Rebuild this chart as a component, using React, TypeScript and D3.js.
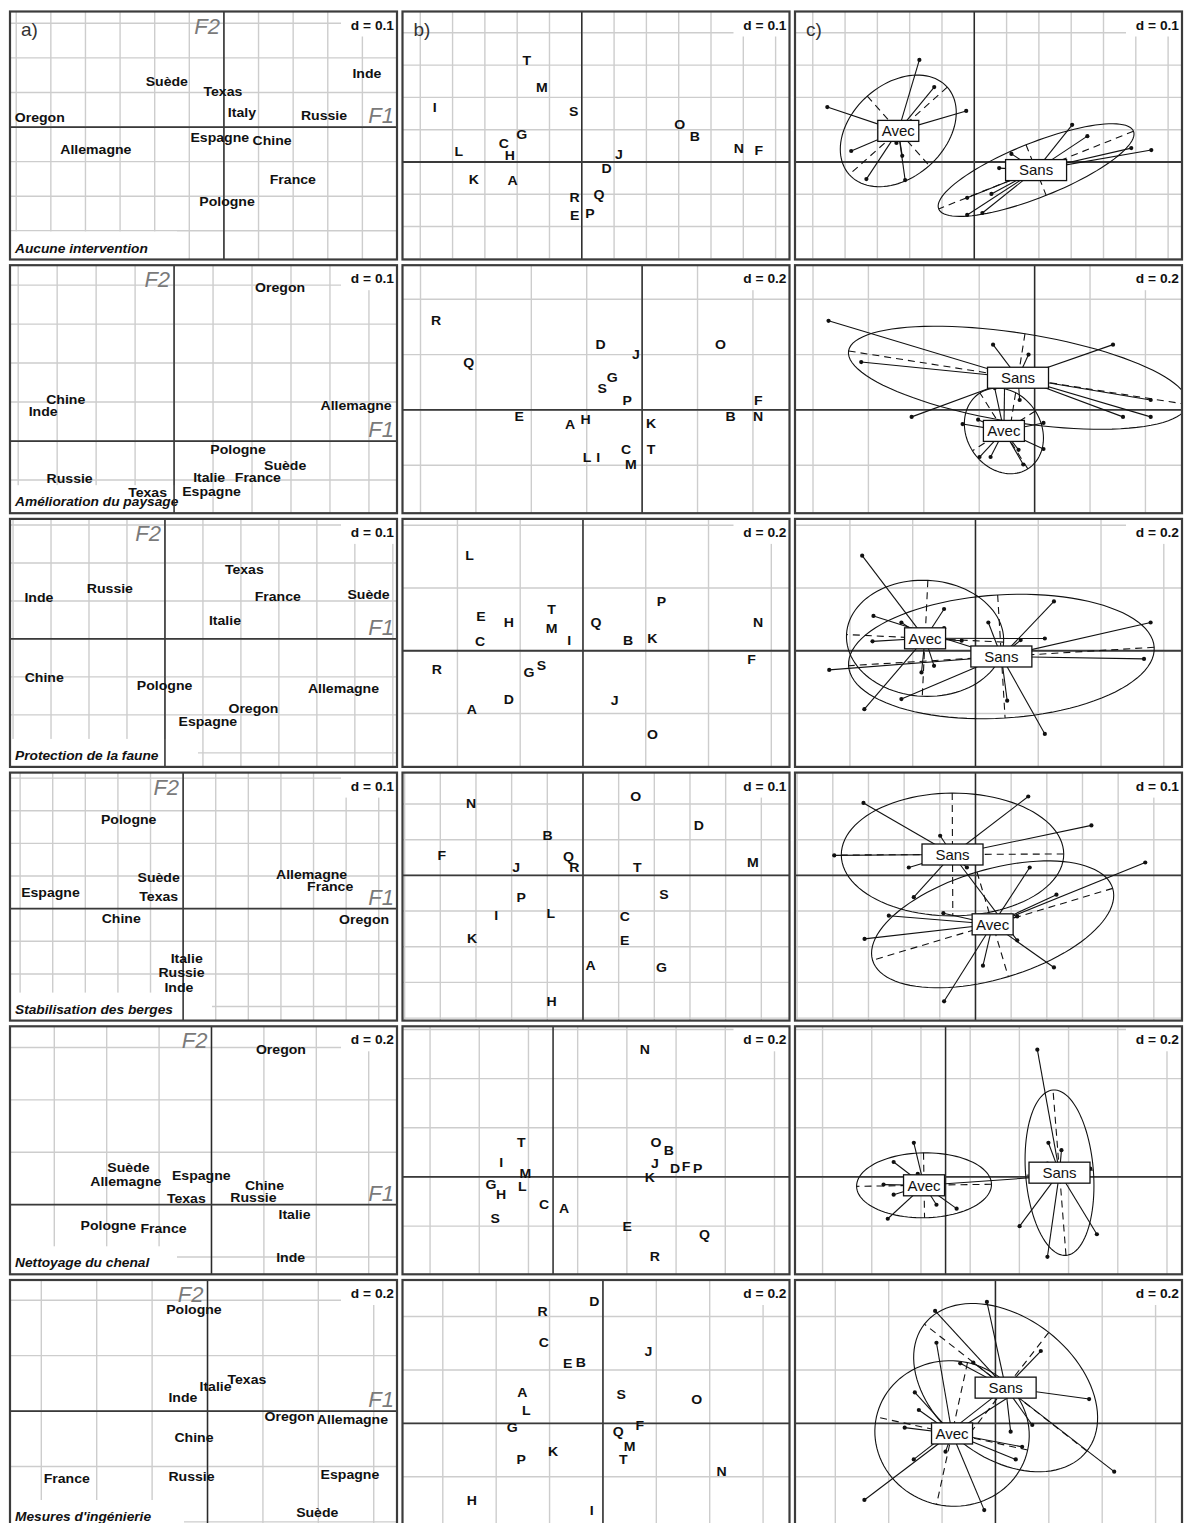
import React from "react";
import * as d3 from "d3";

// ---------------- data ----------------
const LETTERS = "ABCDEFGHIJKLMNOPQRST".split("");
const GROUP_OF_LETTER = ["Avec","Sans","Avec","Sans","Sans","Sans","Avec","Avec","Avec","Sans","Avec","Avec","Avec","Sans","Sans","Sans","Sans","Sans","Avec","Avec"];
const CLASS_LEVELS = ["Avec", "Sans"];

const THEMES = ["Aucune intervention", "Amélioration du paysage", "Protection de la faune", "Stabilisation des berges", "Nettoyage du chenal", "Mesures d'ingénierie"];

// panel a) : countries (label, F1, F2)
const countries1: [string, number, number][] = [["Suède",-0.165,0.133],["Texas",-0.003,0.104],["Italy",0.052,0.043],["Inde",0.413,0.156],["Russie",0.289,0.035],["Oregon",-0.532,0.029],["Allemagne",-0.370,-0.064],["Espagne",-0.012,-0.029],["Chine",0.139,-0.040],["France",0.199,-0.150],["Pologne",0.009,-0.214]];
const countries2: [string, number, number][] = [["Oregon",0.272,0.395],["Chine",-0.278,0.108],["Inde",-0.336,0.077],["Allemagne",0.467,0.092],["Pologne",0.164,-0.021],["Suède",0.285,-0.062],["Italie",0.090,-0.092],["France",0.215,-0.092],["Russie",-0.268,-0.097],["Texas",-0.068,-0.131],["Espagne",0.096,-0.128]];
const countries3: [string, number, number][] = [["Texas",0.209,0.184],["Russie",-0.145,0.132],["Inde",-0.332,0.110],["France",0.297,0.111],["Suède",0.536,0.116],["Italie",0.158,0.050],["Chine",-0.318,-0.101],["Pologne",-0.001,-0.123],["Allemagne",0.470,-0.130],["Oregon",0.233,-0.184],["Espagne",0.113,-0.217]];
const countries4: [string, number, number][] = [["Pologne",-0.167,0.273],["Suède",-0.075,0.096],["Texas",-0.075,0.038],["Espagne",-0.407,0.051],["Allemagne",0.394,0.106],["France",0.451,0.067],["Chine",-0.190,-0.031],["Oregon",0.555,-0.034],["Italie",0.011,-0.151],["Russie",-0.005,-0.194],["Inde",-0.013,-0.240]];
const countries5: [string, number, number][] = [["Oregon",0.265,0.592],["Suède",-0.317,0.144],["Allemagne",-0.327,0.087],["Espagne",-0.039,0.112],["Chine",0.202,0.074],["Texas",-0.096,0.023],["Russie",0.160,0.029],["Italie",0.317,-0.038],["Pologne",-0.394,-0.081],["France",-0.183,-0.092],["Inde",0.302,-0.200]];
const countries6: [string, number, number][] = [["Pologne",-0.049,0.367],["Texas",0.142,0.114],["Italie",0.029,0.088],["Inde",-0.089,0.048],["Oregon",0.296,-0.021],["Allemagne",0.523,-0.030],["Chine",-0.049,-0.096],["France",-0.508,-0.243],["Russie",-0.058,-0.235],["Espagne",0.514,-0.227],["Suède",0.396,-0.367]];

// panels b) / c) : respondents A..T (F1, F2)
const row1X = [-0.214,0.350,-0.241,0.077,-0.022,0.548,-0.186,-0.223,-0.455,0.115,-0.334,-0.381,-0.124,0.486,0.303,0.025,0.053,-0.022,-0.025,-0.170];
const row1Y = [-0.056,0.080,0.059,-0.019,-0.164,0.037,0.084,0.019,0.170,0.025,-0.053,0.034,0.232,0.043,0.115,-0.158,-0.099,-0.111,0.158,0.316];
const row2X = [-0.260,0.319,-0.058,-0.150,-0.444,0.419,-0.108,-0.204,-0.159,-0.022,0.032,-0.199,-0.041,0.419,0.283,-0.054,-0.626,-0.744,-0.144,0.032];
const row2Y = [-0.051,-0.025,-0.144,0.236,-0.025,0.036,0.119,-0.035,-0.170,0.200,-0.047,-0.170,-0.197,-0.025,0.236,0.036,0.173,0.322,0.079,-0.141];
const row3X = [-0.354,0.144,-0.328,-0.236,-0.325,0.537,-0.172,-0.236,-0.044,0.101,0.221,-0.361,-0.100,0.558,0.221,0.250,0.041,-0.466,-0.132,-0.100];
const row3Y = [-0.186,0.034,0.030,-0.154,0.111,-0.026,-0.069,0.090,0.032,-0.159,0.039,0.303,0.072,0.090,-0.265,0.157,0.090,-0.061,-0.048,0.133];
const row4X = [0.021,-0.099,0.117,0.325,0.117,-0.396,0.220,-0.088,-0.243,-0.187,-0.311,-0.090,0.476,-0.314,0.148,-0.173,-0.041,-0.024,0.227,0.152];
const row4Y = [-0.253,0.111,-0.115,0.140,-0.182,0.056,-0.258,-0.353,-0.113,0.022,-0.178,-0.106,0.036,0.203,0.221,-0.061,0.053,0.022,-0.054,0.022];
const row5X = [0.045,0.471,-0.037,0.496,0.301,0.541,-0.252,-0.211,-0.211,0.414,0.393,-0.125,-0.113,0.373,0.418,0.588,0.615,0.414,-0.235,-0.129];
const row5Y = [-0.129,0.109,-0.113,0.034,-0.200,0.045,-0.031,-0.072,0.061,0.054,0.000,-0.037,0.013,0.518,0.139,0.034,-0.233,-0.325,-0.170,0.139];
const row6X = [-0.302,-0.083,-0.221,-0.032,-0.132,0.138,-0.340,-0.491,-0.042,0.170,-0.187,-0.287,0.100,0.445,0.351,-0.306,0.057,-0.226,0.068,0.076];
const row6Y = [0.116,0.228,0.302,0.455,0.225,-0.006,-0.016,-0.287,-0.325,0.271,-0.106,0.050,-0.088,-0.181,0.091,-0.135,-0.031,0.421,0.110,-0.135];

// grid step and window of each panel
const D_A = [0.1, 0.1, 0.1, 0.1, 0.2, 0.2];
const D_BC = [0.1, 0.2, 0.2, 0.1, 0.2, 0.2];
const GRID_X_ORIGIN_BC = [0, 0, 0, 0, 0.1, 0];
const XLIM_A = [[-0.618,0.5],[-0.421,0.572],[-0.408,0.611],[-0.531,0.656],[-0.769,0.708],[-0.713,0.684]];
const YLIM_A = [[-0.383,0.334],[-0.185,0.451],[-0.337,0.316],[-0.343,0.417],[-0.266,0.681],[-0.422,0.473]];
const XLIM_BC = [[-0.555,0.643],[-0.865,0.532],[-0.575,0.658],[-0.506,0.579],[-0.612,0.961],[-0.751,0.699]];
const YLIM_BC = [[-0.302,0.466],[-0.373,0.523],[-0.370,0.420],[-0.407,0.288],[-0.396,0.613],[-0.392,0.537]];

const COUNTRIES = [countries1, countries2, countries3, countries4, countries5, countries6];
const ROWS_X = [row1X, row2X, row3X, row4X, row5X, row6X];
const ROWS_Y = [row1Y, row2Y, row3Y, row4Y, row5Y, row6Y];

// ---------------- layout / style ----------------
const FONT = "'Liberation Sans', Arial, Helvetica, sans-serif";
const COL_X = [10, 402.5, 795];
const PANEL_W = 387;
const PANEL_H = 248;
const ROW_Y0 = 11.5;
const ROW_STEP = 253.7;
const BOX_W: Record<string, number> = { Avec: 41, Sans: 61 };

function gridVals(lo: number, hi: number, d: number, origin: number) {
  const out: number[] = [];
  const k0 = Math.ceil((lo - origin) / d - 1e-9);
  const k1 = Math.floor((hi - origin) / d + 1e-9);
  for (let k = k0; k <= k1; k++) out.push(origin + k * d);
  return out;
}

function classGeometry(xs: number[], ys: number[], coeff = 1.5) {
  const n = xs.length;
  const mx = d3.mean(xs) as number;
  const my = d3.mean(ys) as number;
  let vx = 0, vy = 0, cxy = 0;
  xs.forEach((xv, i) => {
    vx += (xv - mx) ** 2 / n;
    vy += (ys[i] - my) ** 2 / n;
    cxy += (xv - mx) * (ys[i] - my) / n;
  });
  const delta = Math.sqrt((vx - vy) ** 2 + 4 * cxy * cxy);
  let l1 = (vx + vy + delta) / 2;
  let l2 = vx + vy - l1;
  l1 = Math.sqrt(Math.max(l1, 0));
  l2 = Math.sqrt(Math.max(l2, 0));
  let a0: number, b0: number;
  if (Math.abs(cxy) < 1e-12) {
    if (vx > vy) { a0 = 1; b0 = 0; } else { a0 = 0; b0 = 1; }
  } else {
    a0 = 1;
    b0 = (l1 * l1 - vx) / cxy;
    const nm = Math.hypot(a0, b0);
    a0 /= nm; b0 /= nm;
  }
  const c11 = coeff * a0 * l1, c12 = -coeff * b0 * l2, c21 = coeff * b0 * l1, c22 = coeff * a0 * l2;
  const poly = d3.range(100).map((i) => {
    const t = (2 * Math.PI * i) / 100;
    return [mx + c11 * Math.cos(t) + c12 * Math.sin(t), my + c21 * Math.cos(t) + c22 * Math.sin(t)] as [number, number];
  });
  return {
    mx, my, poly,
    ax1: [[mx + c11, my + c21], [mx - c11, my - c21]],
    ax2: [[mx + c12, my + c22], [mx - c12, my - c22]],
  };
}

type Sc = d3.ScaleLinear<number, number>;

function Panel(props: {
  id: string; left: number; top: number; xlim: number[]; ylim: number[]; d: number; gx0: number;
  sub?: string; tag?: string; axisNames?: boolean; render: (x: Sc, y: Sc) => React.ReactNode;
}) {
  const { id, left, top, xlim, ylim, d, gx0, sub, tag, axisNames, render } = props;
  const right = left + PANEL_W;
  const bottom = top + PANEL_H;
  const x = d3.scaleLinear().domain(xlim).range([left, right]);
  const y = d3.scaleLinear().domain(ylim).range([bottom, top]);
  const vx = gridVals(xlim[0], xlim[1], d, gx0);
  const hy = gridVals(ylim[0], ylim[1], d, 0);
  const subW = sub ? sub.length * 7.0 + 34 : 0;
  return (
    <g>
      <defs>
        <clipPath id={id}>
          <rect x={left} y={top} width={PANEL_W} height={PANEL_H} />
        </clipPath>
      </defs>
      <g clipPath={`url(#${id})`}>
        <rect x={left} y={top} width={PANEL_W} height={PANEL_H} fill="#fff" />
        {vx.map((v, i) => (
          <line key={"v" + i} x1={x(v)} x2={x(v)} y1={top} y2={bottom} stroke="#cdcdcd" strokeWidth={1.4} />
        ))}
        {hy.map((v, i) => (
          <line key={"h" + i} x1={left} x2={right} y1={y(v)} y2={y(v)} stroke="#cdcdcd" strokeWidth={1.4} />
        ))}
        {sub && <rect x={left} y={bottom - 28} width={subW} height={28} fill="#fff" />}
        {sub && (
          <text transform={`translate(${left + 5},${bottom - 7}) scale(1.1,1)`} fontFamily={FONT} fontSize={12.5}
            fontStyle="italic" fontWeight="bold" fill="#111">{sub}</text>
        )}
        <rect x={right - 56} y={top} width={56} height={25} fill="#fff" />
        <text transform={`translate(${right - 3},${top + 18}) scale(1.1,1)`} textAnchor="end" fontFamily={FONT}
          fontSize={12.5} fontWeight="bold" fill="#111">{`d = ${d}`}</text>
        <line x1={x(0)} x2={x(0)} y1={top} y2={bottom} stroke="#2a2a2a" strokeWidth={1.5} />
        <line x1={left} x2={right} y1={y(0)} y2={y(0)} stroke="#3a3a3a" strokeWidth={1.8} />
        {axisNames && (
          <>
            <text x={x(0) - 4} y={top + 22} textAnchor="end" fontFamily={FONT} fontSize={22} fontStyle="italic" fill="#7a7a7a">F2</text>
            <text x={right - 3} y={y(0) - 4} textAnchor="end" fontFamily={FONT} fontSize={22} fontStyle="italic" fill="#7a7a7a">F1</text>
          </>
        )}
        {tag && (
          <text x={left + 11} y={top + 24} fontFamily={FONT} fontSize={19} fill="#333">{tag}</text>
        )}
        {render(x, y)}
      </g>
      <rect x={left} y={top} width={PANEL_W} height={PANEL_H} fill="none" stroke="#3c3c3c" strokeWidth={2.2} />
    </g>
  );
}

function Label({ x, y, text }: { x: number; y: number; text: string }) {
  return (
    <text transform={`translate(${x},${y + 4.6}) scale(1.1,1)`} textAnchor="middle" fontFamily={FONT}
      fontSize={12.8} fontWeight="bold" fill="#111">{text}</text>
  );
}

export default function App() {
  const line = d3.line<[number, number]>();
  const panels: React.ReactNode[] = [];
  for (let r = 0; r < 6; r++) {
    const top = ROW_Y0 + r * ROW_STEP;
    const xsRow = ROWS_X[r];
    const ysRow = ROWS_Y[r];
    // a) countries
    panels.push(
      <Panel key={"a" + r} id={"clipa" + r} left={COL_X[0]} top={top} xlim={XLIM_A[r]} ylim={YLIM_A[r]} d={D_A[r]} gx0={0}
        sub={THEMES[r]} tag={r === 0 ? "a)" : undefined} axisNames
        render={(x, y) => COUNTRIES[r].map(([name, fx, fy], i) => <Label key={i} x={x(fx)} y={y(fy)} text={name} />)} />
    );
    // b) respondents
    panels.push(
      <Panel key={"b" + r} id={"clipb" + r} left={COL_X[1]} top={top} xlim={XLIM_BC[r]} ylim={YLIM_BC[r]} d={D_BC[r]} gx0={GRID_X_ORIGIN_BC[r]}
        tag={r === 0 ? "b)" : undefined}
        render={(x, y) => LETTERS.map((L, i) => <Label key={L} x={x(xsRow[i])} y={y(ysRow[i])} text={L} />)} />
    );
    // c) classes
    panels.push(
      <Panel key={"c" + r} id={"clipc" + r} left={COL_X[2]} top={top} xlim={XLIM_BC[r]} ylim={YLIM_BC[r]} d={D_BC[r]} gx0={GRID_X_ORIGIN_BC[r]}
        tag={r === 0 ? "c)" : undefined}
        render={(x, y) => {
          const geo = CLASS_LEVELS.map((g) => {
            const idx = LETTERS.map((_, i) => i).filter((i) => GROUP_OF_LETTER[i] === g);
            return { g, idx, ...classGeometry(idx.map((i) => xsRow[i]), idx.map((i) => ysRow[i])) };
          });
          return (
            <g>
              {LETTERS.map((_, i) => (
                <circle key={"p" + i} cx={x(xsRow[i])} cy={y(ysRow[i])} r={2.1} fill="#111" />
              ))}
              {geo.map((G) => G.idx.map((i) => (
                <line key={G.g + "s" + i} x1={x(xsRow[i])} y1={y(ysRow[i])} x2={x(G.mx)} y2={y(G.my)} stroke="#111" strokeWidth={1.1} />
              )))}
              {geo.map((G) => (
                <g key={G.g + "e"}>
                  <path d={line.curve(d3.curveLinearClosed)(G.poly.map(([a, b]) => [x(a), y(b)] as [number, number])) || ""}
                    fill="none" stroke="#111" strokeWidth={1.1} />
                  {[G.ax1, G.ax2].map((ax, k) => (
                    <line key={k} x1={x(ax[0][0])} y1={y(ax[0][1])} x2={x(ax[1][0])} y2={y(ax[1][1])}
                      stroke="#111" strokeWidth={1.1} strokeDasharray="7,5" />
                  ))}
                </g>
              ))}
              {geo.map((G) => {
                const w = BOX_W[G.g];
                const cx = x(G.mx), cy = y(G.my);
                return (
                  <g key={G.g + "l"}>
                    <rect x={cx - w / 2} y={cy - 10.5} width={w} height={21} fill="#fff" stroke="#111" strokeWidth={1.3} />
                    <text x={cx} y={cy + 5.2} textAnchor="middle" fontFamily={FONT} fontSize={15} fill="#111">{G.g}</text>
                  </g>
                );
              })}
            </g>
          );
        }} />
    );
  }
  return (
    <svg width={1184} height={1523} style={{ position: "absolute", left: 0, top: 0, background: "#fff", display: "block" }}>
      <rect x={0} y={0} width={1184} height={1523} fill="#fff" />
      {panels}
    </svg>
  );
}
